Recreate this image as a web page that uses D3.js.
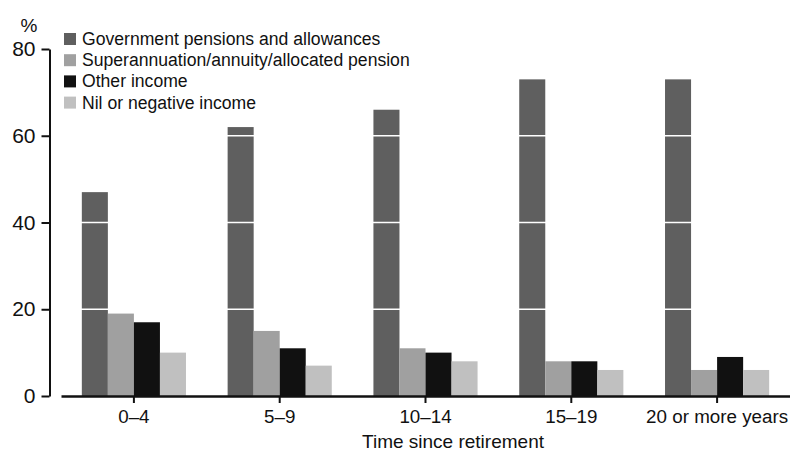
<!DOCTYPE html>
<html><head><meta charset="utf-8">
<script src="https://cdn.jsdelivr.net/npm/d3@7"></script>
<style>body{margin:0;background:#fff}svg{display:block}text{font-family:"Liberation Sans",Arial,sans-serif;fill:#111}</style>
</head><body><svg id="c" width="790" height="453"></svg>
<script>
const categories = ["0–4", "5–9", "10–14", "15–19", "20 or more years"];
const seriesNames = ["Government pensions and allowances", "Superannuation/annuity/allocated pension", "Other income", "Nil or negative income"];
const govValues = [47, 62, 66, 73, 73];
const superValues = [19, 15, 11, 8, 6];
const otherValues = [17, 11, 10, 8, 9];
const nilValues = [10, 7, 8, 6, 6];
const yTicks = [0, 20, 40, 60, 80];
const colors = ["#5f5f5f", "#a0a0a0", "#111111", "#c0c0c0"];

const seriesValues = [govValues, superValues, otherValues, nilValues];
const svg = d3.select("#c");
const y = d3.scaleLinear().domain([0, 80]).range([396, 49]);
const x0 = d3.scaleBand().domain(categories).range([61, 790]).padding(0);
const x1 = d3.scaleBand().domain(seriesNames).range([0, x0.bandwidth()]).paddingInner(0).paddingOuter(0.8);

const groups = svg.append("g").selectAll("g").data(categories).join("g")
  .attr("transform", d => `translate(${x0(d)},0)`);
groups.selectAll("rect").data((d, i) => seriesNames.map((s, k) => ({s, k, v: seriesValues[k][i]})))
  .join("rect")
  .attr("x", d => x1(d.s)).attr("width", x1.bandwidth())
  .attr("y", d => y(d.v)).attr("height", d => y(0) - y(d.v))
  .attr("fill", d => colors[d.k]);

// white gridlines over bars
svg.append("g").selectAll("line").data(yTicks.filter(t => t > 0 && t < 80)).join("line")
  .attr("x1", 61).attr("x2", 790).attr("y1", d => y(d)).attr("y2", d => y(d))
  .attr("stroke", "#fff").attr("stroke-width", 1.5);

// y axis
const yAxis = svg.append("g").attr("transform", "translate(49.5,0)")
  .call(d3.axisLeft(y).tickValues(yTicks).tickSize(8).tickPadding(6).tickSizeOuter(0));
yAxis.select(".domain").attr("stroke", "#111").attr("stroke-width", 2);
yAxis.selectAll(".tick line").attr("stroke", "#111").attr("stroke-width", 2);
yAxis.selectAll(".tick text").style("font-size", "21px").attr("fill", "#111");

// x axis
const xAxis = svg.append("g").attr("transform", "translate(0,396)")
  .call(d3.axisBottom(x0).tickSize(7).tickPadding(7).tickSizeOuter(0));
xAxis.select(".domain").attr("stroke", "#111").attr("stroke-width", 2.5);
xAxis.selectAll(".tick line").attr("stroke", "#111").attr("stroke-width", 2);
xAxis.selectAll(".tick text").style("font-size", "18.8px").attr("fill", "#111");

svg.append("text").attr("x", 29).attr("y", 32).attr("text-anchor", "middle")
  .style("font-size", "19px").text("%");
svg.append("text").attr("x", 453).attr("y", 448).attr("text-anchor", "middle")
  .style("font-size", "19px").text("Time since retirement");

// legend
const leg = svg.append("g").selectAll("g").data(seriesNames).join("g")
  .attr("transform", (d, i) => `translate(64,${39 + i * 21.2})`);
leg.append("rect").attr("x", 0).attr("y", -6).attr("width", 12).attr("height", 12)
  .attr("fill", (d, i) => colors[i]);
leg.append("text").attr("x", 18).attr("y", 6).style("font-size", "17.6px").text(d => d);
</script></body></html>
